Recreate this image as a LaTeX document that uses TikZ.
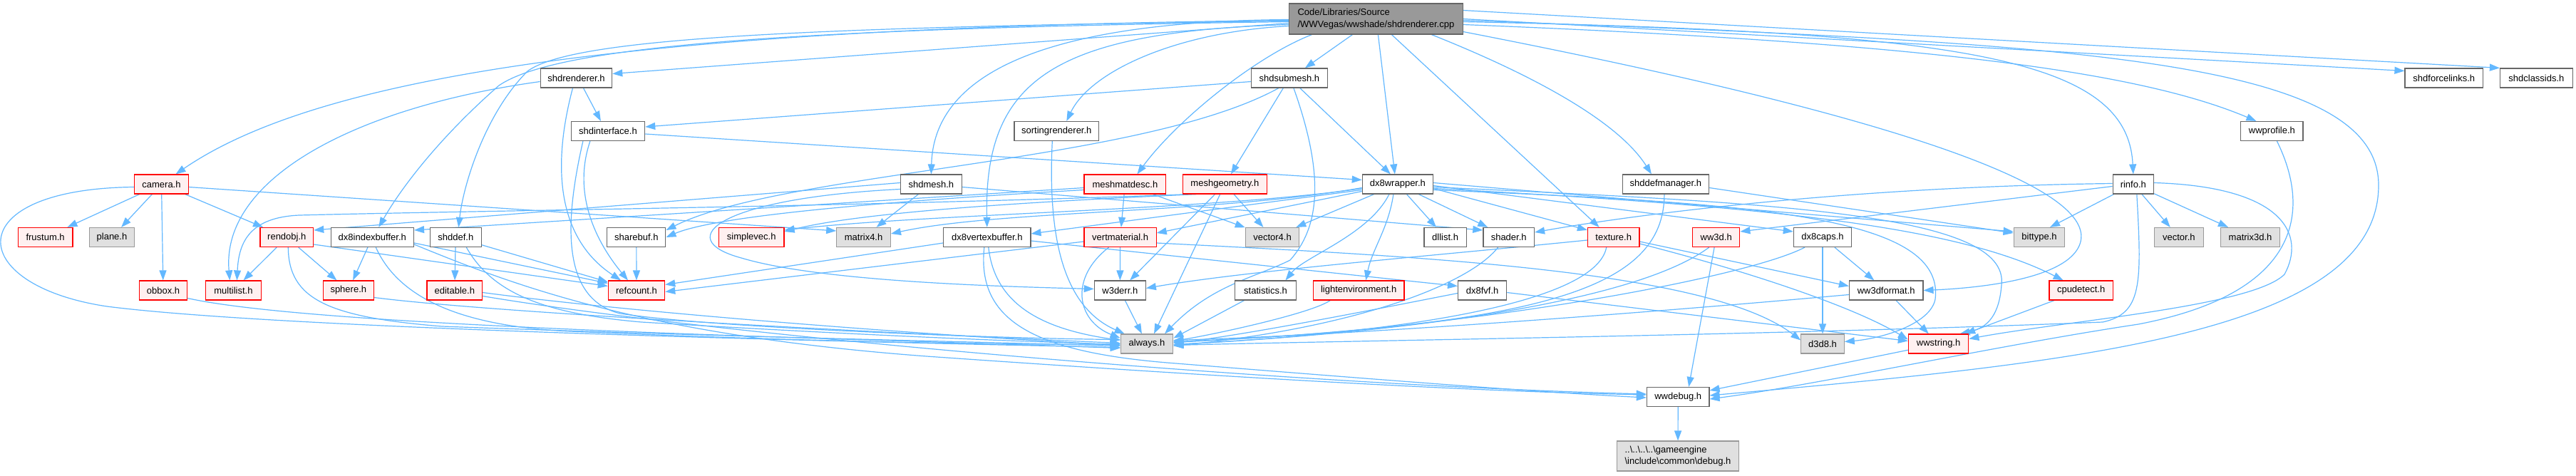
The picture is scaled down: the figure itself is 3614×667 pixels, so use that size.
\documentclass[tikz,border=0pt]{standalone}
\usepackage{fontspec}
\setmainfont{Liberation Sans}
\usetikzlibrary{arrows.meta}
\definecolor{edgec}{HTML}{63B8FF}
\definecolor{bordc}{HTML}{666666}
\definecolor{redb}{HTML}{FF0000}
\definecolor{redf}{HTML}{FFF0F0}
\definecolor{grayb}{HTML}{999999}
\definecolor{grayf}{HTML}{E0E0E0}
\definecolor{rootf}{HTML}{999999}
\pgfdeclarelayer{bg}
\pgfsetlayers{bg,main}
\begin{document}
\begin{tikzpicture}[x=1pt,y=-1pt,
  base/.style={draw=bordc, fill=white, line width=1.2pt, minimum height=27pt, inner sep=0pt, font=\fontsize{13}{16.5}\selectfont, text=black},
  wn/.style={base},
  rn/.style={base, draw=redb, fill=redf},
  gn/.style={base, draw=grayb, fill=grayf},
  lk/.style={draw=edgec, line width=1.2pt, -{Triangle[length=14pt,width=10pt]}},
]
\useasboundingbox (0,0) rectangle (3614,667);
% row 0
\node[wn, fill=rootf, minimum width=243.5pt, minimum height=43pt, align=left] (R) at (1930.4,26.5) {Code/Libraries/Source\\/WWVegas/wwshade/shdrenderer.cpp};
% row 1
\node[wn, minimum width=100.4pt] (SR) at (808.5,109.5) {shdrenderer.h};
\node[wn, minimum width=106.7pt] (SS) at (1808.9,109.5) {shdsubmesh.h};
\node[wn, minimum width=109.6pt] (FL) at (3428.8,109.5) {shdforcelinks.h};
\node[wn, minimum width=101.8pt] (CI) at (3558.4,109.5) {shdclassids.h};
% row 2
\node[wn, minimum width=103.5pt] (SI) at (852.9,184) {shdinterface.h};
\node[wn, minimum width=118.7pt] (SO) at (1482.3,184) {sortingrenderer.h};
\node[wn, minimum width=87.3pt] (WP) at (3187.4,184) {wwprofile.h};
% row 3
\node[rn, minimum width=75.5pt] (CA) at (226.5,258.5) {camera.h};
\node[wn, minimum width=86pt] (SM) at (1306.4,258.5) {shdmesh.h};
\node[rn, minimum width=114.7pt] (MM) at (1578.4,258.5) {meshmatdesc.h};
\node[rn, minimum width=117.9pt] (MG) at (1718.4,258.5) {meshgeometry.h};
\node[wn, minimum width=99.2pt] (DW) at (1960.9,258.5) {dx8wrapper.h};
\node[wn, minimum width=121.4pt] (DM) at (2336.9,258.5) {shddefmanager.h};
\node[wn, minimum width=57.4pt] (RI) at (2992.8,258.5) {rinfo.h};
% row 4
\node[rn, minimum width=76.6pt] (FR) at (63.6,333) {frustum.h};
\node[gn, minimum width=63.4pt] (PL) at (157,333) {plane.h};
\node[rn, minimum width=74.7pt] (RO) at (402.3,333) {rendobj.h};
\node[wn, minimum width=116.3pt] (IB) at (522.3,333) {dx8indexbuffer.h};
\node[wn, minimum width=71.6pt] (SD) at (639.3,333) {shddef.h};
\node[wn, minimum width=82.1pt] (SB) at (892.8,333) {sharebuf.h};
\node[rn, minimum width=91.4pt] (SV) at (1054.2,333) {simplevec.h};
\node[gn, minimum width=75.6pt] (M4) at (1211.6,333) {matrix4.h};
\node[wn, minimum width=122.2pt] (VB) at (1384.8,333) {dx8vertexbuffer.h};
\node[rn, minimum width=101.1pt] (VM) at (1571.6,333) {vertmaterial.h};
\node[gn, minimum width=75.2pt] (V4) at (1785,333) {vector4.h};
\node[wn, minimum width=59.2pt] (DL) at (2027.6,333) {dllist.h};
\node[wn, minimum width=71.6pt] (SH) at (2116.7,333) {shader.h};
\node[rn, minimum width=72.4pt] (TX) at (2263.7,333) {texture.h};
\node[rn, minimum width=66.2pt] (W3) at (2407.7,333) {ww3d.h};
\node[wn, minimum width=81.3pt] (DC) at (2557,333) {dx8caps.h};
\node[gn, minimum width=71.6pt] (BT) at (2861,333) {bittype.h};
\node[gn, minimum width=68.9pt] (VE) at (3056.8,333) {vector.h};
\node[gn, minimum width=83pt] (M3) at (3157,333) {matrix3d.h};
% row 5
\node[rn, minimum width=67.3pt] (OB) at (229,407.5) {obbox.h};
\node[rn, minimum width=77.4pt] (ML) at (327.4,407.5) {multilist.h};
\node[rn, minimum width=71.2pt] (SP) at (488.8,407.5) {sphere.h};
\node[rn, minimum width=77.6pt] (ED) at (637.8,407.5) {editable.h};
\node[rn, minimum width=79.3pt] (RC) at (893,407.5) {refcount.h};
\node[wn, minimum width=72pt] (WE) at (1571.3,407.5) {w3derr.h};
\node[wn, minimum width=85.7pt] (ST) at (1775.5,407.5) {statistics.h};
\node[rn, minimum width=127.6pt] (LE) at (1906.2,407.5) {lightenvironment.h};
\node[wn, minimum width=68.1pt] (FV) at (2079.6,407.5) {dx8fvf.h};
\node[wn, minimum width=103.5pt] (WF) at (2646.2,407.5) {ww3dformat.h};
\node[rn, minimum width=89.1pt] (CD) at (2919.6,407.5) {cpudetect.h};
% row 6
\node[gn, minimum width=73.5pt] (AL) at (1609,482.5) {always.h};
\node[gn, minimum width=60.3pt] (D8) at (2557,482.5) {d3d8.h};
\node[rn, minimum width=84.4pt] (WS) at (2719.6,482.5) {wwstring.h};
% rows 7, 8
\node[wn, minimum width=87.5pt] (WD) at (2354.2,557) {wwdebug.h};
\node[gn, minimum width=170.5pt, minimum height=42pt, align=left] (DB) at (2354,640) {..\textbackslash..\textbackslash..\textbackslash..\textbackslash gameengine\\\textbackslash include\textbackslash common\textbackslash debug.h};

\begin{pgfonlayer}{bg}
\fill[white] (0,0) rectangle (3614,667);
% root
\draw[lk] ([yshift=-6pt]R.west) -- ([yshift=6pt]SR.east);
\draw[lk] ([yshift=-2pt]R.west) .. controls (900,38) and (450,105) .. ([xshift=20pt]CA.north);
\draw[lk] ([yshift=-4pt]R.west) .. controls (1100,40) and (780,65) .. (700,120) .. controls (620,190) and (565,260) .. ([xshift=9pt]IB.north);
\draw[lk] ([yshift=-3pt]R.west) .. controls (1100,38) and (800,55) .. (740,100) .. controls (680,160) and (650,260) .. ([xshift=4pt]SD.north);
\draw[lk] ([yshift=-1pt]R.west) .. controls (1450,30) and (1310,110) .. (SM.north);
\draw[lk] ([yshift=-8pt]R.west) .. controls (1480,45) and (1380,110) .. (VB.north);
\draw[lk] ([yshift=-10pt]R.west) .. controls (1650,45) and (1530,100) .. ([xshift=14pt]SO.north);
\draw[lk] ([xshift=-90pt]R.south) .. controls (1760,80) and (1650,170) .. ([xshift=17pt]MM.north);
\draw[lk] ([xshift=-33pt]R.south) -- ([xshift=22pt]SS.north);
\draw[lk] ([xshift=3pt]R.south) -- ([xshift=-4pt]DW.north);
\draw[lk] ([xshift=22pt]R.south) -- ([xshift=-20pt]TX.north);
\draw[lk] ([xshift=78pt]R.south) .. controls (2150,105) and (2270,170) .. ([xshift=-20pt]DM.north);
\draw[lk] ([yshift=-18pt]R.east) .. controls (2700,170) and (2950,270) .. (2917,345) .. controls (2895,395) and (2760,405) .. (WF.east);
\draw[lk] ([yshift=-4pt]R.east) .. controls (2750,45) and (2985,80) .. (RI.north);
\draw[lk] ([yshift=-8pt]R.east) .. controls (2700,60) and (3000,100) .. ([xshift=-22pt]WP.north);
\draw[lk] ([yshift=-2pt]R.east) .. controls (2900,60) and (3337,80) .. (3337,260) .. controls (3337,470) and (2900,510) .. ([yshift=2pt]WD.east);
\draw[lk] (R.east) -- ([yshift=10pt]FL.west);
\draw[lk] ([yshift=12pt]R.east) -- (CI.north west);
% shdrenderer
\draw[lk] ([xshift=10pt]SR.south) -- ([xshift=-10pt]SI.north);
\draw[lk] ([yshift=-5pt]SR.west) .. controls (500,150) and (310,250) .. ([xshift=-5pt]ML.north);
\draw[lk] ([xshift=-5pt]SR.south) .. controls (770,250) and (790,340) .. ([xshift=-22pt]RC.north);
% shdinterface
\draw[lk] ([yshift=-4pt]SI.east) -- ([yshift=6pt]DW.west);
\draw[lk] ([xshift=-25pt]SI.south) .. controls (800,280) and (845,350) .. ([xshift=-12pt]RC.north);
\draw[lk] ([xshift=-35pt]SI.south) .. controls (790,320) and (790,420) .. (870,440) .. controls (1000,460) and (1400,475) .. ([yshift=6pt]AL.west);
% shdsubmesh
\draw[lk] ([yshift=-5pt]SS.west) -- ([yshift=6pt]SI.east);
\draw[lk] ([xshift=-15pt]SS.south) .. controls (1600,230) and (1100,240) .. ([yshift=10pt]SB.east);
\draw[lk] (SS) -- (MG);
\draw[lk] (SS) -- ([xshift=-10pt]DW.north);
\draw[lk] ([xshift=6pt]SS.south) .. controls (1860,250) and (1850,320) .. (1810,365) .. controls (1760,390) and (1700,400) .. ([xshift=25pt]AL.north);
% sortingrenderer, wwprofile
\draw[lk] ([xshift=-6pt]SO.south) .. controls (1470,330) and (1490,430) .. ([xshift=6pt]AL.north west);
\draw[lk] ([xshift=7pt]WP.south) .. controls (3240,290) and (3235,410) .. (3000,455) .. controls (2800,485) and (2550,540) .. ([yshift=-3pt]WD.east);
% rinfo
\draw[lk] (RI) -- ([xshift=15pt]BT.north);
\draw[lk] (RI) -- (VE);
\draw[lk] (RI) -- (M3);
\draw[lk] ([yshift=-3pt]RI.west) -- ([yshift=8pt]W3.east);
\draw[lk] ([yshift=1pt]RI.west) .. controls (2600,262) and (2300,300) .. ([yshift=7pt]SH.east);
\draw[lk] ([yshift=2pt]RI.east) .. controls (3205,262) and (3235,330) .. (3205,385) .. controls (3160,430) and (2900,450) .. ([yshift=7pt]WS.east);
\draw[lk] ([xshift=5pt]RI.south) .. controls (3005,400) and (3005,440) .. (2950,452) .. controls (2500,470) and (1900,478) .. ([yshift=-2pt]AL.east);
% camera
\draw[lk] (CA) -- (FR);
\draw[lk] (CA) -- (PL);
\draw[lk] (CA) -- (OB);
\draw[lk] (CA) -- (RO);
\draw[lk] ([yshift=-4pt]CA.east) -- ([yshift=9pt]M4.west);
\draw[lk] ([yshift=-4pt]CA.west) .. controls (-60,265) and (-50,400) .. (150,430) .. controls (400,462) and (1200,480) .. ([yshift=-5pt]AL.west);
% rendobj
\draw[lk] (RO) -- (ML);
\draw[lk] (RO) -- (SP);
\draw[lk] ([xshift=2pt]RO.south) .. controls (405,420) and (460,445) .. (620,458) .. controls (1000,472) and (1300,478) .. ([yshift=-3pt]AL.west);
\draw[lk] ([yshift=-10pt]RO.east) -- ([yshift=6pt]RC.west);
% dx8indexbuffer
\draw[lk] (IB) -- (SP);
\draw[lk] ([yshift=-8pt]IB.east) -- ([yshift=10pt]RC.west);
\draw[lk] ([xshift=5pt]IB.south) .. controls (560,420) and (650,458) .. (800,465) .. controls (1100,478) and (1400,485) .. (AL.west);
\draw[lk] ([yshift=-10pt]IB.east) .. controls (720,400) and (900,470) .. (1300,500) .. controls (1800,535) and (2100,550) .. ([yshift=3pt]WD.west);
% shddef, editable, sharebuf, sphere, obbox
\draw[lk] (SD) -- (ED);
\draw[lk] (SD) -- (RC);
\draw[lk] ([xshift=15pt]SD.south) .. controls (690,410) and (760,440) .. (900,452) .. controls (1200,470) and (1400,478) .. ([yshift=-1pt]AL.west);
\draw[lk] ([yshift=-3pt]ED.east) .. controls (900,440) and (1300,470) .. ([yshift=-2pt]AL.west);
\draw[lk] ([yshift=-8pt]ED.east) .. controls (1000,470) and (1800,540) .. ([yshift=4pt]WD.west);
\draw[lk] (SB) -- (RC);
\draw[lk] ([yshift=-10pt]SP.east) .. controls (700,440) and (1300,470) .. ([yshift=1pt]AL.west);
\draw[lk] ([yshift=-11pt]OB.east) .. controls (450,460) and (1200,475) .. ([yshift=-6pt]AL.west);
% shdmesh
\draw[lk] (SM) -- (M4);
\draw[lk] ([yshift=2pt]SM.west) -- ([yshift=10pt]RO.east);
\draw[lk] ([yshift=-7pt]SM.west) .. controls (1010,278) and (940,335) .. (1040,362) .. controls (1150,395) and (1400,402) .. ([yshift=2pt]WE.west);
\draw[lk] ([yshift=-4pt]SM.east) -- ([yshift=10pt]SH.west);
% meshmatdesc
\draw[lk] (MM) -- (VM);
\draw[lk] (MM) -- (V4);
\draw[lk] ([yshift=-5pt]MM.west) -- ([yshift=10pt]IB.east);
\draw[lk] ([yshift=-8pt]MM.west) .. controls (1200,285) and (1000,305) .. (SB.east);
% meshgeometry
\draw[lk] (MG) -- (V4);
\draw[lk] (MG) -- (WE);
\draw[lk] (MG) -- ([xshift=10pt]AL.north);
\draw[lk] ([xshift=-50pt]MG.south) .. controls (1200,290) and (700,295) .. (420,302) .. controls (350,305) and (335,340) .. ([xshift=5pt]ML.north);
\draw[lk] ([xshift=-40pt]MG.south) .. controls (1400,285) and (1200,300) .. ([yshift=8pt]SV.east);
% vertmaterial
\draw[lk] (VM) -- (WE);
\draw[lk] ([xshift=-16pt]VM.south) .. controls (1500,390) and (1510,450) .. ([yshift=8pt]AL.west);
\draw[lk] ([yshift=-6pt]VM.west) -- ([yshift=-2pt]RC.east);
\draw[lk] ([yshift=-8pt]VM.east) .. controls (2000,360) and (2400,380) .. ([yshift=5pt]D8.west);
% dx8vertexbuffer
\draw[lk] ([yshift=-8pt]VB.west) -- ([yshift=8pt]RC.east);
\draw[lk] ([xshift=2pt]VB.south) .. controls (1395,420) and (1450,460) .. ([yshift=5pt]AL.west);
\draw[lk] ([xshift=-4pt]VB.south) .. controls (1370,450) and (1450,495) .. (1650,510) .. controls (1900,530) and (2150,550) .. ([yshift=-1pt]WD.west);
\draw[lk] ([yshift=-5pt]VB.east) -- ([yshift=6pt]FV.west);
% dx8wrapper
\draw[lk] (DW) -- (V4);
\draw[lk] ([xshift=-12pt]DW.south) .. controls (1920,330) and (1830,360) .. ([xshift=28pt]ST.north);
\draw[lk] ([xshift=-6pt]DW.south) .. controls (1948,320) and (1925,350) .. ([xshift=10pt]LE.north);
\draw[lk] (DW) -- (DL);
\draw[lk] (DW) -- (SH);
\draw[lk] ([yshift=-6pt]DW.east) -- ([yshift=-4pt]TX.north west);
\draw[lk] ([yshift=-2pt]DW.east) -- ([yshift=8pt]DC.west);
\draw[lk] ([yshift=2pt]DW.east) -- ([yshift=8pt]BT.west);
\draw[lk] ([yshift=-4pt]DW.east) .. controls (2500,285) and (2820,300) .. (2808,400) .. controls (2805,440) and (2790,460) .. ([xshift=30pt]WS.north);
\draw[lk] ([yshift=-6pt]DW.east) .. controls (2500,290) and (2750,320) .. ([xshift=-25pt]CD.north);
\draw[lk] ([yshift=-8pt]DW.east) .. controls (2450,285) and (2730,300) .. (2715,420) .. controls (2708,455) and (2640,475) .. ([yshift=3pt]D8.east);
\draw[lk] ([yshift=-5pt]DW.west) .. controls (1700,300) and (1400,295) .. ([yshift=5pt]M4.east);
\draw[lk] ([yshift=-8pt]DW.west) -- ([yshift=5pt]VB.east);
\draw[lk] ([yshift=-10pt]DW.west) -- ([yshift=6pt]VM.east);
\draw[lk] ([yshift=-6pt]DW.west) .. controls (1700,295) and (1300,300) .. ([yshift=10pt]SV.east);
% texture, shader, dx8caps
\draw[lk] ([yshift=-6pt]TX.east) -- ([yshift=6pt]WF.west);
\draw[lk] ([yshift=-9pt]TX.east) .. controls (2450,380) and (2600,430) .. ([yshift=6pt]WS.west);
\draw[lk] ([xshift=-10pt]TX.south) .. controls (2240,420) and (2000,465) .. ([yshift=-1pt]AL.east);
\draw[lk] ([yshift=-4pt]TX.west) .. controls (2000,360) and (1750,380) .. ([yshift=3pt]WE.east);
\draw[lk] ([xshift=-15pt]SH.south) .. controls (2060,400) and (1900,460) .. ([yshift=-3pt]AL.east);
\draw[lk] (DC) -- (D8);
\draw[lk] (DC) -- (WF);
\draw[lk] ([xshift=-25pt]DC.south) .. controls (2450,390) and (2050,465) .. ([yshift=3pt]AL.east);
% lower rows
\draw[lk] (WF) -- (WS);
\draw[lk] ([yshift=-6pt]WF.west) .. controls (2300,440) and (1900,470) .. ([yshift=5pt]AL.east);
\draw[lk] ([xshift=-30pt]ST.south) -- ([yshift=8pt]AL.east);
\draw[lk] ([xshift=-40pt]LE.south) .. controls (1840,440) and (1700,470) .. ([yshift=4pt]AL.east);
\draw[lk] (WE) -- (AL);
\draw[lk] ([yshift=-4pt]FV.west) .. controls (1950,430) and (1750,470) .. ([yshift=1pt]AL.east);
\draw[lk] ([yshift=-3pt]FV.east) -- ([yshift=4pt]WS.west);
\draw[lk] (CD) -- (WS);
\draw[lk] (WS) -- (WD);
\draw[lk] (W3) -- ([xshift=15pt]WD.north);
\draw[lk] ([xshift=-10pt]W3.south) .. controls (2300,420) and (2000,465) .. ([yshift=-1pt]AL.east);
\draw[lk] ([xshift=-2pt]DM.south) .. controls (2335,410) and (2150,455) .. ([yshift=2pt]AL.east);
\draw[lk] ([yshift=-5pt]DM.east) -- ([yshift=6pt]BT.west);
\draw[lk] (WD) -- (DB);
\end{pgfonlayer}
\end{tikzpicture}
\end{document}
